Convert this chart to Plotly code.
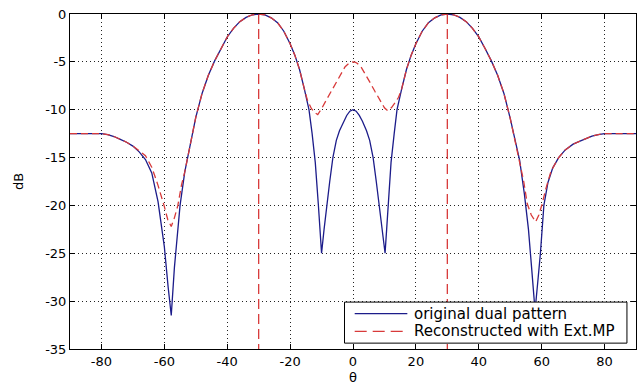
import plotly.graph_objects as go

# ---- data ----
theta_orig = [-90, -86, -82, -80, -78, -76, -74, -72, -70, -68, -66, -64, -62, -60, -58.8, -57.8,
              -56.8, -55.8, -55, -53.5, -52, -50, -48, -46, -44, -42, -40, -38, -36, -34, -32, -30,
              -28, -26, -24, -22, -20, -18.5, -17, -15.5, -14, -13, -12, -11, -10.5, -10,
              -9.2, -8.4, -7.4, -6.4, -5.3, -4.3, -3, -2, -1, 0,
              1, 2, 3, 4.3, 5.3, 6.4, 7.4, 8.4, 9.2, 10.2, 10.7, 11.2, 12.1, 13.1, 14,
              15.5, 17, 18.5, 20, 22, 24, 26, 28, 30, 32, 34, 36, 38, 40, 42, 44, 46, 48,
              50, 51.5, 53, 54.5, 55.8, 56.8, 57.9, 58.9, 59.6, 60.7, 62, 63.5, 65.4, 67.5,
              70, 72, 74, 76, 78, 80, 84, 88, 90]
db_orig = [-12.5, -12.5, -12.5, -12.5, -12.6, -12.8, -13.1, -13.4, -13.8, -14.4, -15.2, -16.6, -19.6, -24.3, -28.5, -31.5,
           -26.5, -22.5, -20.0, -16.5, -14.0, -10.8, -8.3, -6.4, -4.9, -3.6, -2.4, -1.5, -0.8, -0.35, -0.08, 0.0,
           -0.1, -0.4, -0.9, -1.8, -3.1, -4.3, -5.8, -7.8, -10.0, -12.5, -15.5, -20.0, -22.5, -25.0,
           -22.5, -20.0, -17.5, -15.0, -13.2, -12.2, -11.2, -10.6, -10.15, -10.0,
           -10.15, -10.6, -11.2, -12.2, -13.2, -15.0, -17.5, -20.0, -22.5, -25.0, -22.5, -20.0, -15.5, -12.5, -10.0,
           -7.8, -5.8, -4.3, -3.1, -1.8, -0.9, -0.4, -0.1, 0.0, -0.08, -0.35, -0.8, -1.5, -2.4, -3.6, -4.9, -6.4, -8.3,
           -10.9, -13.2, -15.3, -18.8, -22.5, -26.5, -31.0, -27.5, -25.0, -20.0, -17.6, -16.1, -15.0, -14.2,
           -13.6, -13.3, -13.0, -12.75, -12.6, -12.5, -12.5, -12.5, -12.5]

theta_rec = [-90, -86, -82, -80, -78, -76, -74, -72, -70, -68, -66, -64, -62, -60.1, -58.9, -57.8,
             -56.8, -55.7, -54.5, -53.5, -52, -50, -48, -46, -44, -42, -40, -38, -36, -34, -32, -30,
             -28, -26, -24, -22, -20, -18.5, -17, -15.5, -14.5, -13.2, -12.2, -11.2, -10, -8.5, -7, -5.5,
             -4, -2.5, -1.2, -0.6, 0, 0.6, 1.2, 2.5, 4, 5.5, 7, 8.5, 10, 11, 12.2, 13.5, 14.5, 15.5,
             17, 18.5, 20, 22, 24, 26, 28, 30, 32, 34, 36, 38, 40, 42, 44, 46, 48,
             50, 51.5, 53, 54.3, 55.4, 56.7, 58.1, 59.1, 60.1, 61.3, 63, 65.4, 67.5,
             70, 72, 74, 76, 78, 80, 84, 88, 90]
db_rec = [-12.5, -12.5, -12.5, -12.5, -12.6, -12.8, -13.1, -13.4, -13.8, -14.3, -14.8, -16.0, -17.9, -20.0, -21.5, -22.2,
          -21.3, -20.0, -17.8, -16.5, -14.0, -10.8, -8.3, -6.4, -4.9, -3.6, -2.4, -1.5, -0.8, -0.35, -0.08, 0.0,
          -0.1, -0.4, -0.9, -1.8, -3.1, -4.3, -5.8, -7.8, -9.0, -9.9, -10.3, -10.5, -9.9, -9.0, -8.1, -7.2,
          -6.3, -5.5, -5.12, -5.03, -5.0, -5.03, -5.12, -5.5, -6.3, -7.2, -8.1, -9.0, -9.8, -10.1, -9.8, -9.2, -8.7, -7.8,
          -5.8, -4.3, -3.1, -1.8, -0.9, -0.4, -0.1, 0.0, -0.08, -0.35, -0.8, -1.5, -2.4, -3.6, -4.9, -6.4, -8.3,
          -10.9, -13.2, -15.3, -17.5, -19.8, -21.0, -21.7, -21.0, -19.9, -18.3, -16.4, -15.0, -14.2,
          -13.6, -13.3, -13.0, -12.75, -12.6, -12.5, -12.5, -12.5, -12.5]

steer_angles = [-30, 30]
y_limits = [-35, 0]

x_ticks = [-80, -60, -40, -20, 0, 20, 40, 60, 80]
x_tick_text = ["-80", "-60", "-40", "-20", "0", "20", "40", "60", "80"]
y_ticks = [0, -5, -10, -15, -20, -25, -30, -35]
y_tick_text = ["0", "-5", "-10", "-15", "-20", "-25", "-30", "-35"]

series_names = ["original dual pattern", "Reconstructed with Ext.MP"]

BLUE = "#1c1c8a"
RED = "#d83a3a"
FONT = "DejaVu Sans"
CURVE_DASH = "7px,4px"

# vertical steering lines
vx, vy = [], []
for a in steer_angles:
    vx += [a, a, None]
    vy += [y_limits[1], y_limits[0], None]

fig = go.Figure()
fig.add_trace(go.Scatter(x=vx, y=vy, mode="lines", showlegend=False,
                         line=dict(color=RED, width=1.3, dash="10px,5px"), hoverinfo="skip"))
fig.add_trace(go.Scatter(x=theta_orig, y=db_orig, mode="lines", name=series_names[0],
                         showlegend=False, line=dict(color=BLUE, width=1.3)))
fig.add_trace(go.Scatter(x=theta_rec, y=db_rec, mode="lines", name=series_names[1],
                         showlegend=False, line=dict(color=RED, width=1.3, dash=CURVE_DASH)))

axis_common = dict(showline=True, linecolor="black", linewidth=1, mirror="ticks",
                   ticks="inside", ticklen=5, tickcolor="black",
                   showgrid=True, gridcolor="#222222", gridwidth=1, griddash="1px,3px",
                   zeroline=False, tickfont=dict(family=FONT, size=13, color="black"))

fig.update_xaxes(range=[-90, 90], tickvals=x_ticks, ticktext=x_tick_text,
                 title=dict(text="θ", font=dict(family=FONT, size=13, color="black"), standoff=5),
                 **axis_common)
fig.update_yaxes(range=y_limits, tickvals=y_ticks, ticktext=y_tick_text,
                 title=dict(text="dB", font=dict(family=FONT, size=13, color="black"), standoff=18),
                 **axis_common)

# legend box drawn in paper coordinates (MATLAB-style boxed legend)
box_x0, box_x1, box_y0, box_y1 = 0.485, 0.984, 0.0175, 0.140
row_y = [0.1053, 0.0526]
samp_x0, samp_x1, text_x = 0.503, 0.596, 0.604
fig.add_shape(type="rect", xref="paper", yref="paper", x0=box_x0, x1=box_x1, y0=box_y0, y1=box_y1,
              fillcolor="white", line=dict(color="black", width=1), layer="above")
legend_styles = [dict(color=BLUE, width=1.3), dict(color=RED, width=1.3, dash="12px,6px")]
for name, ry, st in zip(series_names, row_y, legend_styles):
    fig.add_shape(type="line", xref="paper", yref="paper", x0=samp_x0, x1=samp_x1, y0=ry, y1=ry,
                  line=st, layer="above")
    fig.add_annotation(xref="paper", yref="paper", x=text_x, y=ry, text=name, showarrow=False,
                       xanchor="left", yanchor="middle",
                       font=dict(family=FONT, size=15, color="black"))

fig.update_layout(
    width=643, height=389,
    margin=dict(l=70, r=6, t=14, b=33),
    paper_bgcolor="white", plot_bgcolor="white",
    font=dict(family=FONT, size=13, color="black"),
    showlegend=False,
)

fig.write_html("out.html")
